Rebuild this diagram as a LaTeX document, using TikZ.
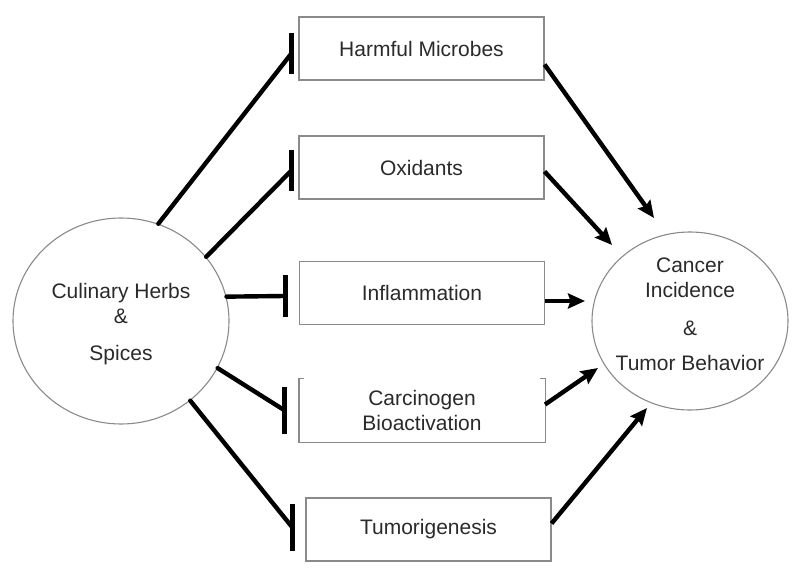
\documentclass[tikz,border=0pt]{standalone}
\usepackage{fontspec}
\setmainfont{Liberation Sans}
\usetikzlibrary{shapes.geometric,arrows.meta}
\definecolor{txt}{HTML}{2A2A2A}
\definecolor{edge}{HTML}{8A8A8A}
\tikzset{
  boxsty/.style={draw=edge,line width=1.1pt,minimum width=245pt,minimum height=63pt,inner sep=0pt,text=txt,font=\fontsize{21}{25}\selectfont,align=center},
  circsty/.style={ellipse,draw=edge,line width=1.1pt,inner sep=0pt},
  circtext/.style={text=txt,font=\fontsize{21}{24}\selectfont,align=center,inner sep=0pt},
  inhib/.style={line width=4.4pt,line cap=round},
  barsty/.style={line width=5pt},
  act/.style={line width=4.4pt,-{Stealth[length=17pt,width=15pt,inset=2.5pt]}},
}
\begin{document}
\begin{tikzpicture}[x=1pt,y=-1pt]
\useasboundingbox (0,0) rectangle (800,580);
% main nodes
\node[circsty,minimum width=216pt,minimum height=206pt] (herbs) at (121,321) {};
\node[circtext] (herbst) at ([yshift=-3pt]herbs.center) {Culinary Herbs\\[1pt]\&\\[13pt]Spices};
\node[circsty,minimum width=196pt,minimum height=178pt] (canc) at (690,321) {};
\node[circtext] (canct) at ([yshift=7pt]canc.center) {Cancer\\[1pt]Incidence\\[14pt]\&\\[11pt]Tumor Behavior};
\node[boxsty] (harm) at (421.5,48.5) {Harmful Microbes};
\node[boxsty] (oxi) at (421.5,167.5) {Oxidants};
\node[boxsty] (infl) at (422,293) {Inflammation};
\node[boxsty,draw=none] (carc) at (422,410.5) {Carcinogen\\Bioactivation};
\node[boxsty] (tumo) at (428.5,529.5) {Tumorigenesis};
\draw[draw=edge,line width=1.1pt] ([xshift=5pt]carc.north west) -- (carc.north west) -- (carc.south west) -- (carc.south east) -- (carc.north east) -- ([xshift=-5pt]carc.north east);
% inhibition ends
\coordinate (b1) at (291,54);
\coordinate (b2) at (291,171);
\coordinate (b3) at (285,296);
\coordinate (b4) at (284,410);
\coordinate (b5) at (292,527);
\draw[inhib] (herbs.69) -- (b1);
\draw[inhib] (herbs.37) -- (b2);
\draw[inhib] (herbs.13) -- (b3);
\draw[inhib] (herbs.-26) -- (b4);
\draw[inhib] (herbs.-49) -- (b5);
\draw[barsty] (b1) ++(0,-21) -- ++(0,41);
\draw[barsty] (b2) ++(0,-21) -- ++(0,41);
\draw[barsty] (b3) ++(0,-21) -- ++(0,42);
\draw[barsty] (b4) ++(0,-23) -- ++(0,47);
\draw[barsty] (b5) ++(0,-23) -- ++(0,47);
% activation arrows
\coordinate (t1) at (654,218);
\coordinate (t2) at (612,245);
\coordinate (t3) at (585,301);
\coordinate (t4) at (598,368);
\coordinate (t5) at (647,408);
\draw[act] ([yshift=-16pt]harm.east) -- (t1);
\draw[act] ([yshift=-4pt]oxi.east) -- (t2);
\draw[act] ([yshift=-8pt]infl.east) -- (t3);
\draw[act] ([yshift=6pt]carc.east) -- (t4);
\draw[act] ([yshift=6pt]tumo.east) -- (t5);
\end{tikzpicture}
\end{document}
